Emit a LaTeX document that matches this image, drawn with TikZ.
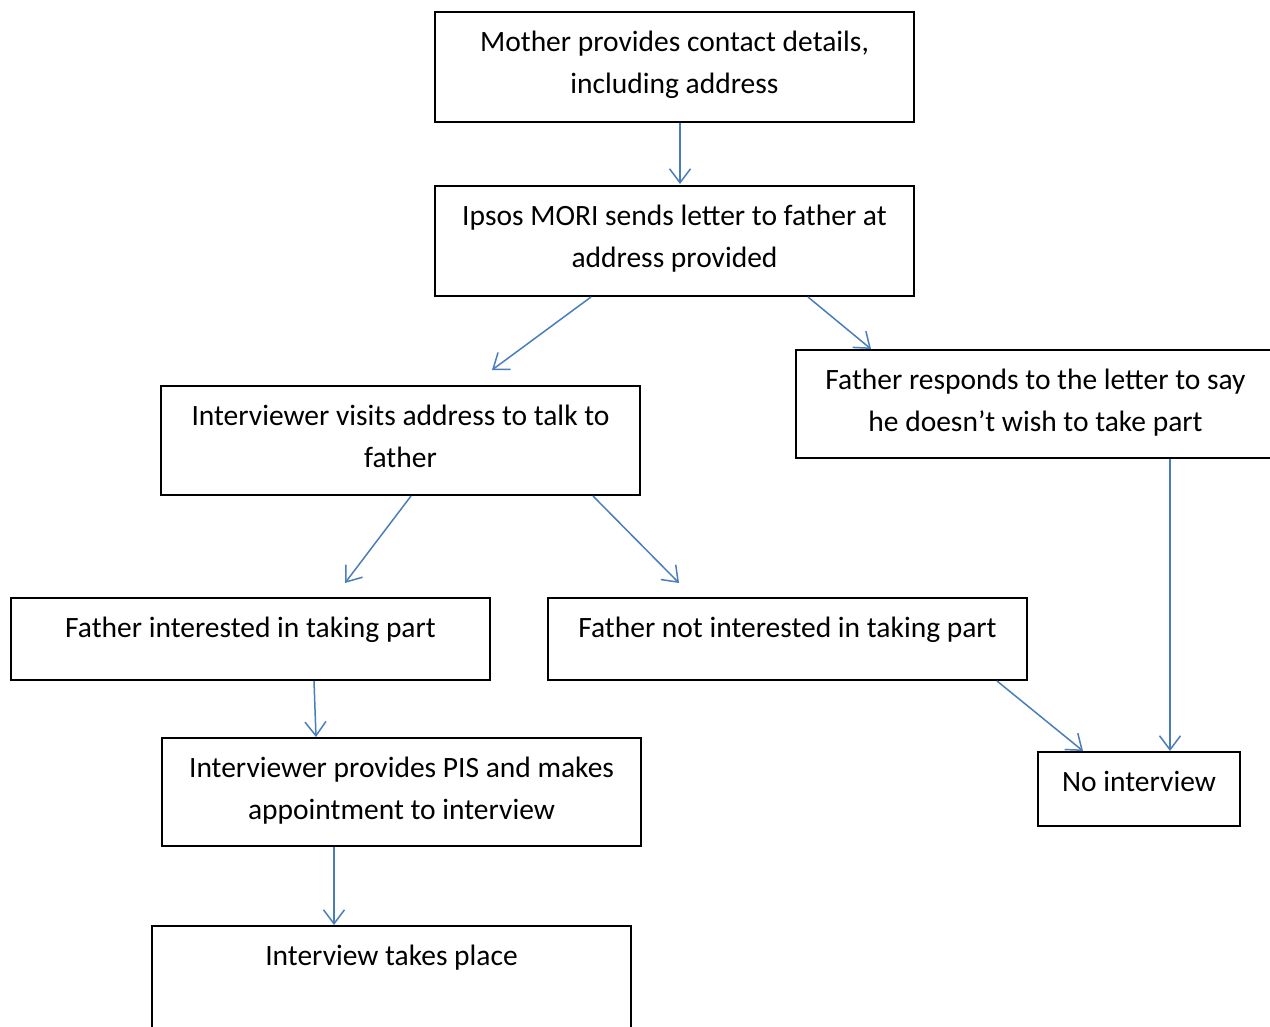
\documentclass[tikz,border=0pt]{standalone}
\usepackage{fontspec}
\setmainfont{Carlito}
\usetikzlibrary{arrows.meta,calc}
\definecolor{arrowblue}{HTML}{4A7EBB}
\begin{document}
\begin{tikzpicture}[x=1pt,y=-1pt,
  box/.style={draw=black,line width=2pt,minimum width=479pt,inner sep=0pt,rectangle},
  txt/.style={anchor=north,inner sep=0pt,align=center,
    font=\fontsize{29.5}{41.5}\selectfont,execute at begin node={\strut}},
  flow/.style={draw=arrowblue,line width=1.5pt,
    -{Straight Barb[length=14pt,width=21pt,line width=1.5pt]}}]
\useasboundingbox (0,0) rectangle (1270,1027);
\clip (0,0) rectangle (1270,1027);
\fill[white] (0,0) rectangle (1270,1027);
% boxes
\node[box,minimum height=110pt] (A) at (674.5,67) {};
\node[box,minimum height=110pt] (B) at (674.5,241) {};
\node[box,minimum height=109pt] (C) at (400.5,440.5) {};
\node[box,minimum height=108pt] (D) at (1035.5,404) {};
\node[box,minimum height=82pt] (E) at (250.5,639) {};
\node[box,minimum height=82pt] (F) at (787.5,639) {};
\node[box,minimum height=108pt] (G) at (401.5,792) {};
\node[box,minimum width=202pt,minimum height=74pt] (H) at (1139,789) {};
\node[box,minimum height=174pt] (I) at (391.5,1013) {};
% texts
\node[txt] (At) at (674.5,60-29.05) {Mother provides contact details,\\including address};
\node[txt] (Bt) at (674.5,234-29.05) {Ipsos MORI sends letter to father at\\address provided};
\node[txt] (Ct) at (400.5,434-29.05) {Interviewer visits address to talk to\\father};
\node[txt] (Dt) at (1035.5,398-29.05) {Father responds to the letter to say\\he doesn’t wish to take part};
\node[txt] (Et) at (250.5,637-29.05) {Father interested in taking part};
\node[txt] (Ft) at (787.5,637-29.05) {Father not interested in taking part};
\node[txt] (Gt) at (401.5,786-29.05) {Interviewer provides PIS and makes\\appointment to interview};
\node[txt] (Ht) at (1139,791-29.05) {No interview};
\node[txt] (It) at (391.5,965-29.05) {Interview takes place};
% connectors
\draw[flow] ($(A.south)+(5.5,0)$) -- ($(B.north)+(5.5,-1)$);
\draw[flow] ($(B.south)+(-83.5,0)$) -- ($(C.north)+(91.5,-15)$);
\draw[flow] ($(B.south)+(133.5,0)$) -- ($(D.north)+(-164.5,0)$);
\draw[flow] ($(C.south)+(10.5,0)$) -- ($(E.north)+(94.5,-14)$);
\draw[flow] ($(C.south)+(192.5,0)$) -- ($(F.north)+(-108.5,-14)$);
\draw[flow] ($(E.south)+(63.5,0)$) -- ($(G.north)+(-85.5,0)$);
\draw[flow] ($(F.south)+(209.5,0)$) -- ($(H.north)+(-56,0)$);
\draw[flow] ($(D.south)+(134.5,0)$) -- ($(H.north)+(31,0)$);
\draw[flow] ($(G.south)+(-67.5,0)$) -- ($(I.north)+(-57.5,0)$);
\end{tikzpicture}
\end{document}
